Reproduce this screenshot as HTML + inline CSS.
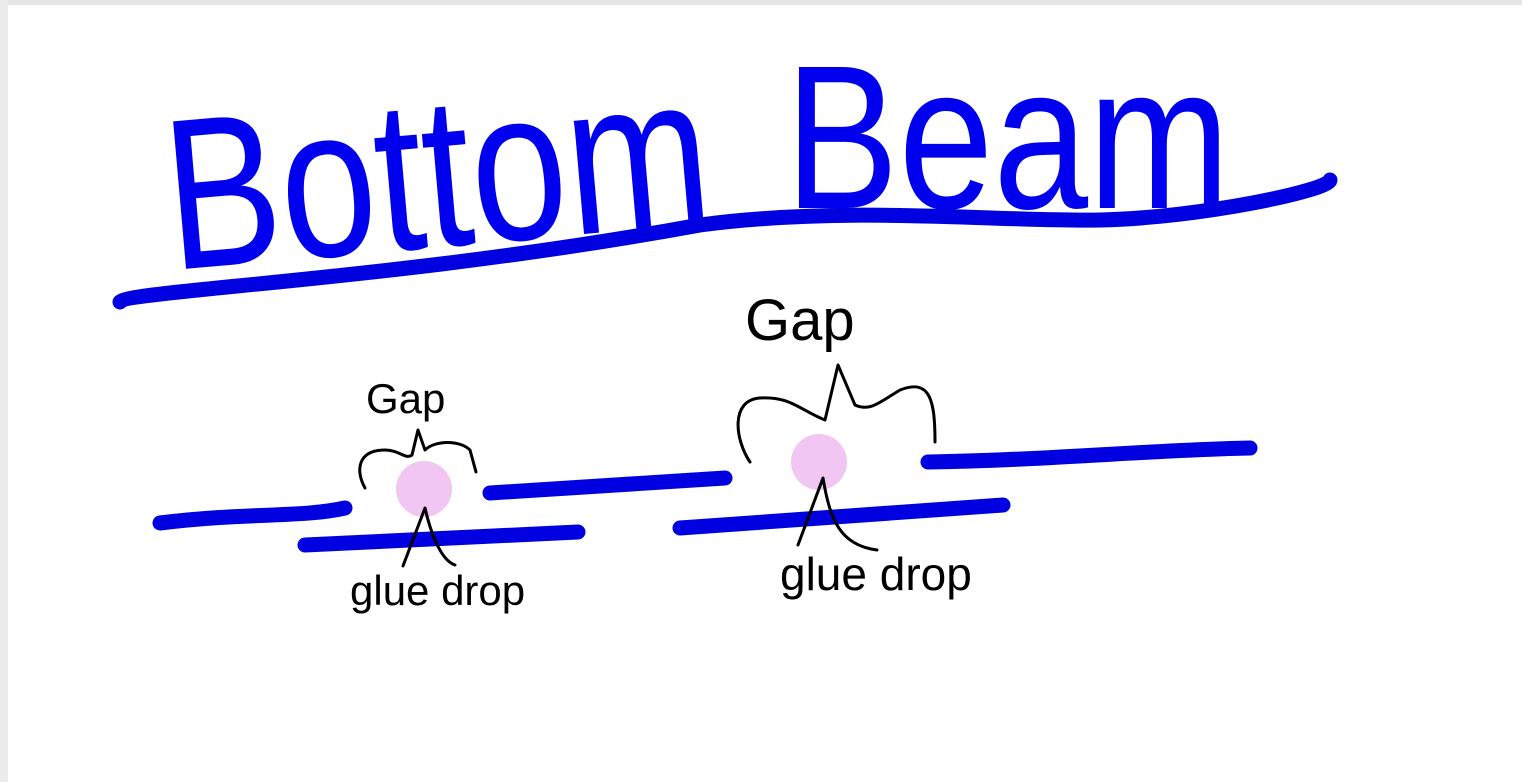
<!DOCTYPE html>
<html><head><meta charset="utf-8"><style>
html,body{margin:0;padding:0;background:#fff;}
svg{display:block;}
</style></head><body>
<svg width="1522" height="782" viewBox="0 0 1522 782" xmlns="http://www.w3.org/2000/svg">
<rect width="1522" height="782" fill="#fff"/>
<rect x="0" y="0" width="1522" height="5" fill="#e6e6e6"/>
<rect x="0" y="0" width="8" height="782" fill="#ececec"/>
<g font-family="Liberation Sans, sans-serif" fill="#0000ee">
<text x="172" y="270" font-size="215" textLength="545" lengthAdjust="spacingAndGlyphs" transform="rotate(-5 172 270)">Bottom</text>
<text x="785" y="208" font-size="205" textLength="445" lengthAdjust="spacingAndGlyphs">Beam</text>
</g>
<g fill="none" stroke="#0000e0" stroke-linecap="round" stroke-linejoin="round" stroke-width="15">
<path d="M120,302 C130,290 400,280 700,225 C850,205 1000,222 1100,220 C1200,218 1330,190 1330,180"/>
<path d="M160,523 C250,512 300,518 345,508"/>
<path d="M305,545 L578,532"/>
<path d="M490,493 L725,478"/>
<path d="M680,528 L1003,505"/>
<path d="M928,462 C1050,460 1150,450 1250,448"/>
</g>
<circle cx="424" cy="489" r="28" fill="#f2c6f2"/>
<circle cx="819" cy="462" r="28" fill="#f2c6f2"/>
<g fill="none" stroke="#000" stroke-width="3" stroke-linecap="round" stroke-linejoin="round">
<path d="M365,488 C355,470 358,450 385,450 C400,450 405,460 412,455 L418,430 L425,450 C435,440 460,440 470,450 L476,472"/>
<path d="M750,462 C735,440 730,400 760,398 C790,396 800,410 825,420 L838,365 L855,405 C870,412 880,402 900,390 C930,378 935,400 935,442"/>
<path d="M403,566 L425,508 C430,530 440,560 455,565"/>
<path d="M798,545 L823,478 C830,520 840,545 877,550"/>
</g>
<g font-family="Liberation Sans, sans-serif" fill="#000">
<text x="366" y="413" font-size="42">Gap</text>
<text x="745" y="340" font-size="58">Gap</text>
<text x="350" y="605" font-size="42">glue drop</text>
<text x="780" y="590" font-size="46">glue drop</text>
</g>
</svg>
</body></html>
